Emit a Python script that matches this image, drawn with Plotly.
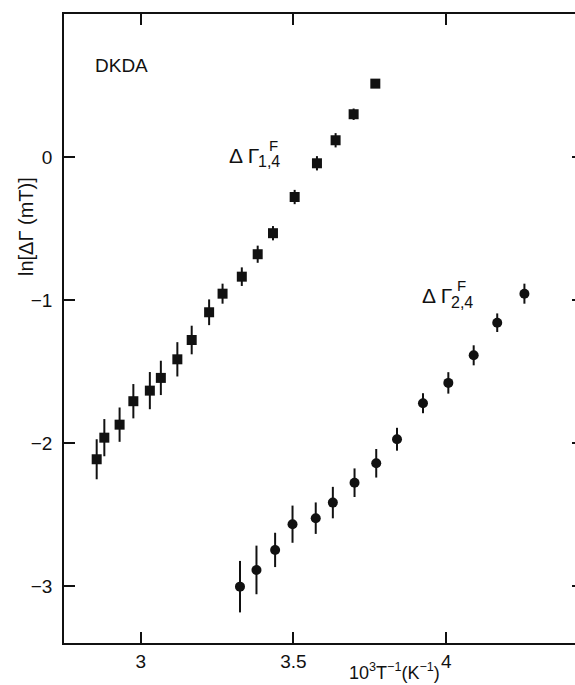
import plotly.graph_objects as go

# Series 1: ΔΓ^F_{1,4} (squares)
x1 = [2.856, 2.881, 2.931, 2.976, 3.030, 3.066, 3.120, 3.167, 3.224, 3.268,
      3.331, 3.383, 3.433, 3.504, 3.577, 3.638, 3.697, 3.768]
y1 = [-2.112, -1.961, -1.870, -1.706, -1.632, -1.543, -1.413, -1.278, -1.084, -0.954,
      -0.835, -0.678, -0.531, -0.278, -0.042, 0.119, 0.301, 0.515]
e1 = [0.14, 0.13, 0.12, 0.12, 0.13, 0.12, 0.12, 0.10, 0.09, 0.07,
      0.065, 0.06, 0.05, 0.05, 0.05, 0.05, 0.04, 0.03]

# Series 2: ΔΓ^F_{2,4} (circles)
x2 = [3.325, 3.379, 3.440, 3.497, 3.573, 3.629, 3.700, 3.771, 3.839, 3.924,
      4.007, 4.090, 4.167, 4.256]
y2 = [-3.003, -2.886, -2.746, -2.566, -2.524, -2.415, -2.276, -2.140, -1.972, -1.720,
      -1.578, -1.385, -1.157, -0.954]
e2 = [0.18, 0.17, 0.12, 0.13, 0.11, 0.11, 0.10, 0.10, 0.08, 0.07,
      0.075, 0.07, 0.065, 0.07]

x_ticks = [3, 3.5, 4]
x_ticklabels = ["3", "3.5", "4"]
y_ticks = [0, -1, -2, -3]
y_ticklabels = ["0", "\u22121", "\u22122", "\u22123"]

FONT = "Liberation Sans, Arial, sans-serif"
INK = "#111111"

L, R, T, B = 64, 575, 14, 643  # plot-area pixel bounds

fig = go.Figure()
fig.add_trace(go.Scatter(
    x=x1, y=y1, mode="markers",
    marker=dict(symbol="square", size=10, color=INK),
    error_y=dict(type="data", array=e1, color=INK, thickness=2, width=0),
    showlegend=False, cliponaxis=False,
))
fig.add_trace(go.Scatter(
    x=x2, y=y2, mode="markers", yaxis="y2",
    marker=dict(symbol="circle", size=10, color=INK),
    error_y=dict(type="data", array=e2, color=INK, thickness=2, width=0),
    showlegend=False, cliponaxis=False,
))

fig.update_layout(
    width=575, height=685,
    margin=dict(l=L, r=575 - R, t=T, b=685 - B),
    paper_bgcolor="white", plot_bgcolor="white",
    font=dict(family=FONT, color=INK, size=19),
    xaxis=dict(
        range=[2.749, 4.4216], tickvals=x_ticks, ticktext=x_ticklabels,
        ticks="inside", ticklen=11, tickwidth=1.8, tickcolor=INK,
        showline=True, linecolor=INK, linewidth=1.8, mirror="ticks",
        showgrid=False, zeroline=False,
        tickfont=dict(size=19, family=FONT, color=INK),
    ),
    yaxis=dict(
        range=[-3.397, 1.002], tickvals=y_ticks, ticktext=y_ticklabels,
        ticks="inside", ticklen=11, tickwidth=1.8, tickcolor=INK,
        showline=True, linecolor=INK, linewidth=1.8, mirror=False,
        showgrid=False, zeroline=False, ticklabelstandoff=6,
        tickfont=dict(size=19, family=FONT, color=INK),
    ),
    yaxis2=dict(
        matches="y", overlaying="y", side="right",
        tickvals=y_ticks, showticklabels=False,
        ticks="inside", ticklen=3, tickwidth=1.8, tickcolor=INK,
        showline=False, showgrid=False, zeroline=False,
    ),
)

def px2x(p):
    return 3 + (p - 140.7) / 306.0

def px2y(p):
    return (157.3 - p) / 143.0

annots = [
    dict(text="DKDA", x=px2x(93), y=px2y(66), size=19),
    dict(text="\u0394 \u0393", x=px2x(227), y=px2y(156), size=21),
    dict(text="F", x=px2x(267), y=px2y(146), size=15),
    dict(text="1,4", x=px2x(256), y=px2y(162), size=16),
    dict(text="\u0394 \u0393", x=px2x(420), y=px2y(296), size=21),
    dict(text="F", x=px2x(456), y=px2y(286), size=15),
    dict(text="2,4", x=px2x(450), y=px2y(303), size=16),
]
for a in annots:
    fig.add_annotation(
        text=a["text"], x=a["x"], y=a["y"], xref="x", yref="y",
        xanchor="left", yanchor="middle", showarrow=False,
        font=dict(size=a["size"], family=FONT, color=INK),
    )

def paper_x(p):
    return (p - L) / (R - L)

def paper_y(p):
    return (B - p) / (B - T)

# Axis titles
fig.add_annotation(
    text="10<sup>3</sup>T<sup>\u22121</sup>(K<sup>\u22121</sup>)",
    x=paper_x(394), y=paper_y(671), xref="paper", yref="paper",
    xanchor="center", yanchor="middle", showarrow=False,
    font=dict(size=18, family=FONT, color=INK),
)
fig.add_annotation(
    text="ln[\u0394\u0393 (mT)]",
    x=paper_x(26), y=paper_y(227), xref="paper", yref="paper",
    xanchor="center", yanchor="middle", showarrow=False, textangle=-90,
    font=dict(size=20, family=FONT, color=INK),
)

fig.write_html("out.html")
